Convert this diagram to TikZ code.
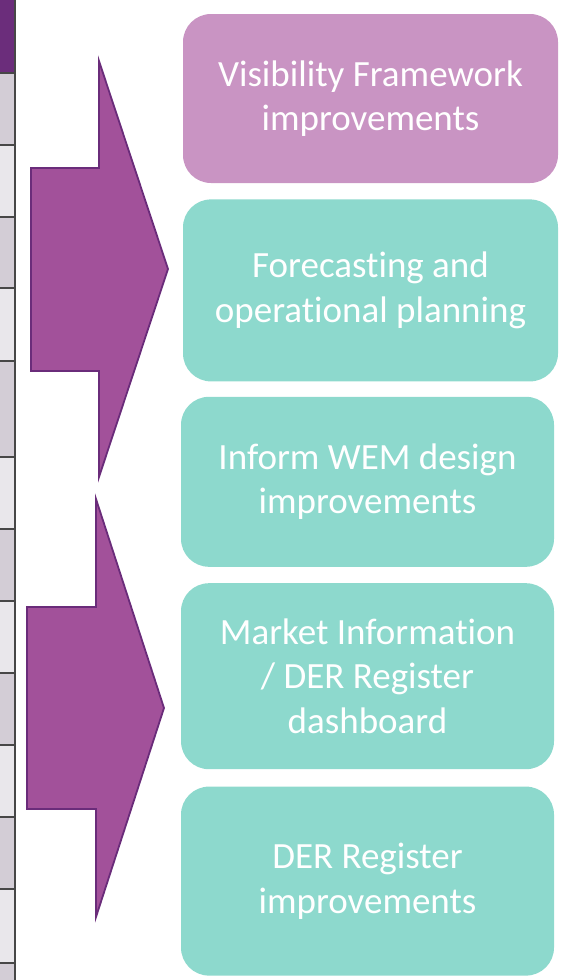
\documentclass[tikz,border=0pt]{standalone}
\usepackage{fontspec}
\setmainfont{Carlito}[Ligatures=NoCommon]
\usetikzlibrary{positioning}

\definecolor{visviolet}{HTML}{C994C3}
\definecolor{planteal}{HTML}{8DD9CD}
\definecolor{arrowfill}{HTML}{A2519A}
\definecolor{arrowline}{HTML}{6A2C7A}
\definecolor{headcell}{HTML}{6B2D7B}
\definecolor{celldark}{HTML}{D3CDD6}
\definecolor{celllight}{HTML}{E9E7EB}
\definecolor{cellrule}{HTML}{474747}

\begin{document}
\begin{tikzpicture}[x=1pt, y=-1pt,
    item/.style={rounded corners=28pt, inner sep=0pt, align=center, text=white,
      font=\fontsize{37}{44.5}\selectfont, minimum width=373pt},
    arrowbody/.style={fill=arrowfill, draw=arrowline, line width=1.8pt}]
    \useasboundingbox (0,0) rectangle (564,980);
    % Table strip
    \fill[headcell] (0,0) rectangle (15,73);
    \foreach \ya/\yb/\c in {73/144.5/celldark, 144.5/217/celllight, 217/288/celldark,
      288/361/celllight, 361/457/celldark, 457/529/celllight, 529/601/celldark,
      601/673/celllight, 673/745/celldark, 745/817/celllight, 817/889/celldark,
      889/963/celllight, 963/980/celldark}
      \fill[\c] (0,\ya) rectangle (15,\yb);
    \foreach \y in {73,144.5,217,288,361,457,529,601,673,745,817,889,963}
      \draw[cellrule, line width=2pt] (0,\y) -- (16.3,\y);
    \draw[cellrule, line width=2pt] (15.3,0) -- (15.3,980);

    % Arrows
    \draw[arrowbody] (31,168) -- (99,168) -- (99,61) -- (168,269) -- (99,477) -- (99,371) -- (31,371) -- cycle;
    \draw[arrowbody] (27,607) -- (96,607) -- (96,499) -- (164,708) -- (96,917) -- (96,809) -- (27,809) -- cycle;

    % Boxes
    \node[item, fill=visviolet, minimum width=375pt, minimum height=169pt] (vis) at (370.5,98.5) {Visibility Framework\\improvements};
    \node[item, fill=planteal, minimum width=375pt, minimum height=182pt, below=16pt of vis] (fc) {Forecasting and\\operational planning};
    \node[item, fill=planteal, minimum height=170pt, below=15pt of fc, xshift=-3pt] (wem) {Inform WEM design\\improvements};
    \node[item, fill=planteal, minimum height=186pt, below=16pt of wem] (mkt) {Market Information\\/ DER Register\\dashboard};
    \node[item, fill=planteal, minimum height=189pt, below=17pt of mkt] (der) {DER Register\\improvements};
\end{tikzpicture}
\end{document}
